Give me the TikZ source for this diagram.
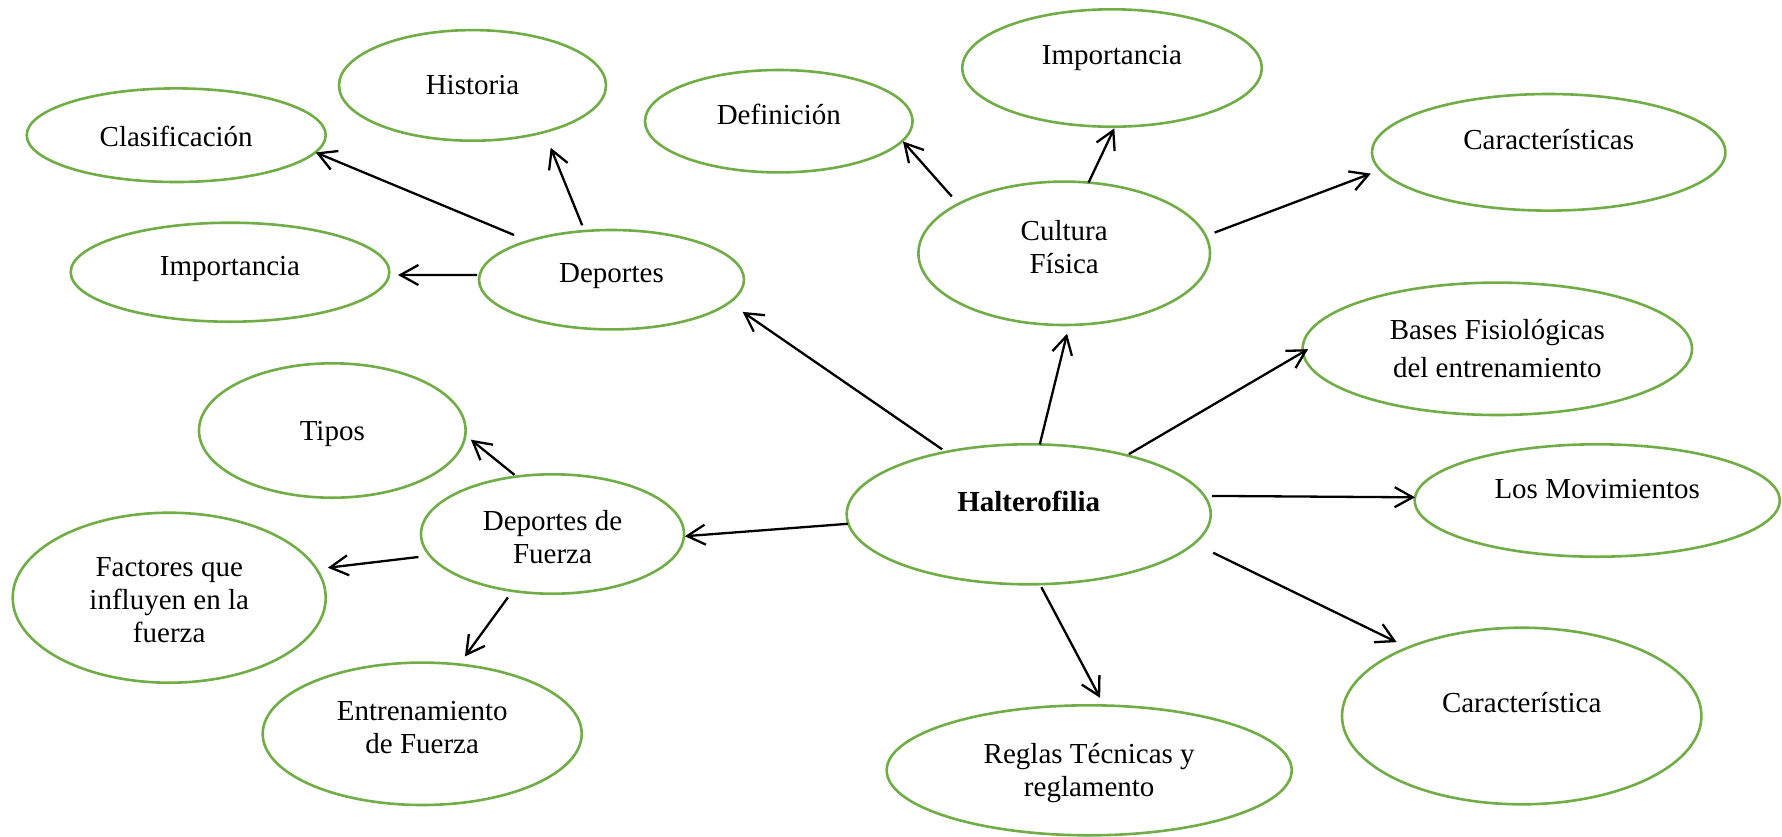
\documentclass[tikz,border=0pt]{standalone}
\usepackage{fontspec}
\setmainfont{Liberation Serif}
\usetikzlibrary{shapes.geometric,arrows.meta}
\definecolor{leaf}{HTML}{70AD47}
\tikzset{
  bub/.style={ellipse, draw=leaf, line width=1.3pt, inner sep=0pt, outer sep=0pt},
  lbl/.style={font=\fontsize{14.5}{16.5}\selectfont, align=center, inner sep=0pt},
  arr/.style={draw=black, line width=1.15pt, -{Straight Barb[length=9pt,width=10pt]}},
}
\begin{document}
\begin{tikzpicture}[x=0.5pt,y=-0.5pt]
\useasboundingbox (0,0) rectangle (1782,836);

% concept bubbles
\node[bub, minimum width=149.5pt, minimum height=46.8pt,
  label={[lbl,name=clas-t,yshift=-0.5pt]center:Clasificación}] (clas) at (176.2,135.2) {};
\node[bub, minimum width=133.5pt, minimum height=55.3pt,
  label={[lbl,name=hist-t]center:Historia}] (hist) at (472.5,85.4) {};
\node[bub, minimum width=159.3pt, minimum height=49.5pt,
  label={[lbl,name=impL-t,yshift=1.6pt]center:Importancia}] (impL) at (230,272.2) {};
\node[bub, minimum width=132.5pt, minimum height=49.7pt,
  label={[lbl,name=dep-t,yshift=1.8pt]center:Deportes}] (dep) at (611.5,279.7) {};
\node[bub, minimum width=133.8pt, minimum height=51.2pt,
  label={[lbl,name=defn-t,yshift=3.6pt]center:Definición}] (defn) at (778.8,121.2) {};
\node[bub, minimum width=149.7pt, minimum height=58.7pt,
  label={[lbl,name=impT-t,yshift=4.8pt]center:Importancia}] (impT) at (1112,68) {};
\node[bub, minimum width=145.8pt, minimum height=71.7pt,
  label={[lbl,name=cult-t,yshift=3pt]center:Cultura\\Física}] (cult) at (1064.2,253.3) {};
\node[bub, minimum width=176.7pt, minimum height=58.3pt,
  label={[lbl,name=cars-t,yshift=6.5pt]center:Características}] (cars) at (1548.7,152.3) {};
\node[bub, minimum width=194.7pt, minimum height=66.2pt,
  label={[lbl,name=bases-t,font=\fontsize{14.5}{19}\selectfont]center:Bases Fisiológicas\\del entrenamiento}] (bases) at (1497.3,348.8) {};
\node[bub, minimum width=182pt, minimum height=70pt,
  label={[lbl,name=halt-t,yshift=6.2pt,font=\fontsize{14.5}{16.5}\selectfont\bfseries]center:Halterofilia}] (halt) at (1028.7,514.3) {};
\node[bub, minimum width=182.5pt, minimum height=56.2pt,
  label={[lbl,name=mov-t,yshift=5.6pt]center:Los Movimientos}] (mov) at (1597.2,500.5) {};
\node[bub, minimum width=179.7pt, minimum height=88.3pt,
  label={[lbl,name=car-t,yshift=6.6pt]center:Característica}] (car) at (1521.7,716) {};
\node[bub, minimum width=202.5pt, minimum height=65pt,
  label={[lbl,name=reg-t,yshift=-1.4pt]center:Reglas Técnicas y\\reglamento}] (reg) at (1089.2,770.3) {};
\node[bub, minimum width=133.3pt, minimum height=67.2pt,
  label={[lbl,name=tipos-t,yshift=-1.6pt]center:Tipos}] (tipos) at (332.3,430.5) {};
\node[bub, minimum width=131.5pt, minimum height=59.7pt,
  label={[lbl,name=ddf-t,yshift=-1.4pt]center:Deportes de\\Fuerza}] (ddf) at (552.5,534) {};
\node[bub, minimum width=156.5pt, minimum height=85pt,
  label={[lbl,name=fact-t,yshift=-1.1pt]center:Factores que\\influyen en la\\fuerza}] (fact) at (169.2,597.7) {};
\node[bub, minimum width=159.5pt, minimum height=71.2pt,
  label={[lbl,name=entr-t,yshift=2.9pt]center:Entrenamiento\\de Fuerza}] (entr) at (422.2,733.8) {};

% connectors
\draw[arr, shorten <=7.8pt, shorten >=0.2pt] (dep.155) -- (clas.-7);
\draw[arr, shorten <=3.1pt, shorten >=8.5pt] (dep.119.5) -- (hist.-33.5);
\draw[arr, shorten <=1.2pt, shorten >=4.5pt] (dep.178.4) -- (impL.-1.3);
\draw[arr, shorten <=2.3pt, shorten >=8.2pt] (halt.143.2) -- (dep.-11.1);
\draw[arr, shorten <=5pt, shorten >=0.4pt] (cult.155.2) -- (defn.-9.4);
\draw[arr, shorten >=0.9pt] (cult.71.7) -- (impT.-87.2);
\draw[arr, shorten <=4.8pt, shorten >=5.1pt] (cult.7.2) -- (cars.186.3);
\draw[arr, shorten >=4.5pt] (halt.81.4) -- (cult.-86.4);
\draw[arr, shorten <=1.2pt, shorten >=-3pt] (halt.31.6) -- (bases.181.6);
\draw[arr, shorten <=3.9pt] (halt.6.0) -- (mov.179.6);
\draw[arr, shorten <=10.6pt, shorten >=6.3pt] (halt.-10.6) -- (car.149.7);
\draw[arr, shorten <=1.7pt, shorten >=4.3pt] (halt.-81.8) -- (reg.77.8);
\draw[arr, shorten <=0.3pt, shorten >=0.5pt] (halt.183.1) -- (ddf.-1.3);
\draw[arr, shorten <=1.4pt, shorten >=3.6pt] (ddf.122.6) -- (tipos.-2.9);
\draw[arr, shorten <=5.8pt, shorten >=5.7pt] (ddf.190.3) -- (fact.11.1);
\draw[arr, shorten <=4pt, shorten >=5pt] (ddf.235.7) -- (entr.62.9);
\end{tikzpicture}
\end{document}
